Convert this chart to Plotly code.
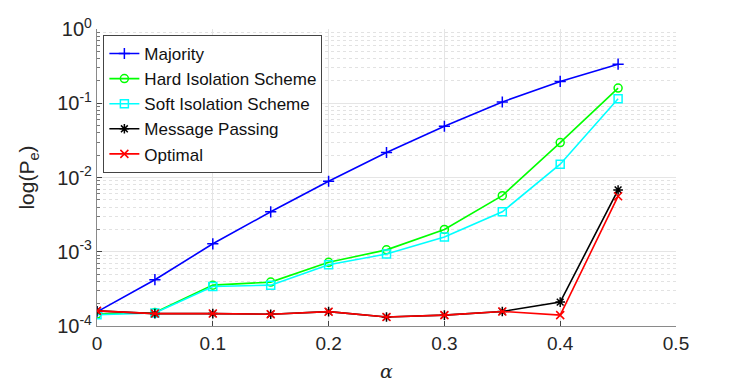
import plotly.graph_objects as go

alpha = [0, 0.05, 0.1, 0.15, 0.2, 0.25, 0.3, 0.35, 0.4, 0.45]

majority = [1.55e-4, 4.2e-4, 1.28e-3, 3.45e-3, 8.9e-3, 0.0217, 0.049, 0.104, 0.197, 0.336]
hard_iso = [1.45e-4, 1.52e-4, 3.55e-4, 3.9e-4, 7.2e-4, 1.06e-3, 2.0e-3, 5.7e-3, 0.0295, 0.16]
soft_iso = [1.42e-4, 1.5e-4, 3.4e-4, 3.55e-4, 6.7e-4, 9.3e-4, 1.58e-3, 3.45e-3, 0.0151, 0.115]
msg_pass = [1.6e-4, 1.47e-4, 1.47e-4, 1.44e-4, 1.56e-4, 1.32e-4, 1.4e-4, 1.57e-4, 2.1e-4, 6.8e-3]
optimal = [1.6e-4, 1.47e-4, 1.47e-4, 1.44e-4, 1.56e-4, 1.32e-4, 1.4e-4, 1.57e-4, 1.4e-4, 5.6e-3]

series = [
    ("Majority", majority, "#0000ff", "cross-thin-open"),
    ("Hard Isolation Scheme", hard_iso, "#00ff00", "circle-open"),
    ("Soft Isolation Scheme", soft_iso, "#00ffff", "square-open"),
    ("Message Passing", msg_pass, "#000000", "asterisk-open"),
    ("Optimal", optimal, "#ff0000", "x-thin-open"),
]

y_ticks = [1e-4, 1e-3, 1e-2, 1e-1, 1]
y_ticktext = ["10<sup>-4</sup>", "10<sup>-3</sup>", "10<sup>-2</sup>", "10<sup>-1</sup>", "10<sup>0</sup>"]
y_minor = [m * d for d in [1e-4, 1e-3, 1e-2, 1e-1] for m in range(2, 10)]

font = "Liberation Sans, Arial, Helvetica, sans-serif"

fig = go.Figure()
for name, vals, color, sym in series:
    fig.add_trace(go.Scatter(
        x=alpha, y=vals, name=name, mode="lines+markers",
        line=dict(color=color, width=1.6),
        marker=dict(symbol=sym, size=8, color=color, line=dict(color=color, width=1.5)),
    ))

fig.update_xaxes(
    range=[0, 0.5], tickvals=[0, 0.1, 0.2, 0.3, 0.4, 0.5],
    ticktext=["0", "0.1", "0.2", "0.3", "0.4", "0.5"],
    ticks="inside", ticklen=5, tickcolor="#444", automargin=False,
    showline=True, linecolor="#8a8a8a", linewidth=1.2,
    showgrid=True, gridcolor="#e5e5e5", zeroline=False,
    tickfont=dict(size=19, color="#262626", family=font),
    title=dict(text="<i>α</i>", font=dict(size=19, color="#262626", family="DejaVu Serif, serif"), standoff=11),
)
fig.update_yaxes(
    type="log", range=[-4, 0], tickvals=y_ticks, ticktext=y_ticktext,
    ticks="inside", ticklen=5, tickcolor="#444", automargin=False,
    showline=True, linecolor="#8a8a8a", linewidth=1.2,
    showgrid=True, gridcolor="#e5e5e5", zeroline=False,
    minor=dict(tickvals=y_minor, ticks="inside", ticklen=3, tickcolor="#777",
               showgrid=True, gridcolor="#e2e2e2", griddash="dot", gridwidth=1),
    tickfont=dict(size=20, color="#262626", family=font),
    title=dict(text="log(P<sub>e</sub>)", font=dict(size=21, color="#262626", family=font), standoff=16),
)

# the page body adds an 8px offset, so the figure is 8px smaller each way
fig.update_layout(
    width=739, height=375,
    margin=dict(l=89, r=71, t=21, b=57),
    paper_bgcolor="white", plot_bgcolor="white",
    showlegend=True,
    legend=dict(
        x=0.011, y=0.98, xanchor="left", yanchor="top",
        bgcolor="white", bordercolor="#444", borderwidth=1,
        font=dict(size=17, color="#111", family=font),
        itemwidth=30, tracegroupgap=0,
    ),
)

fig.write_html("out.html")
